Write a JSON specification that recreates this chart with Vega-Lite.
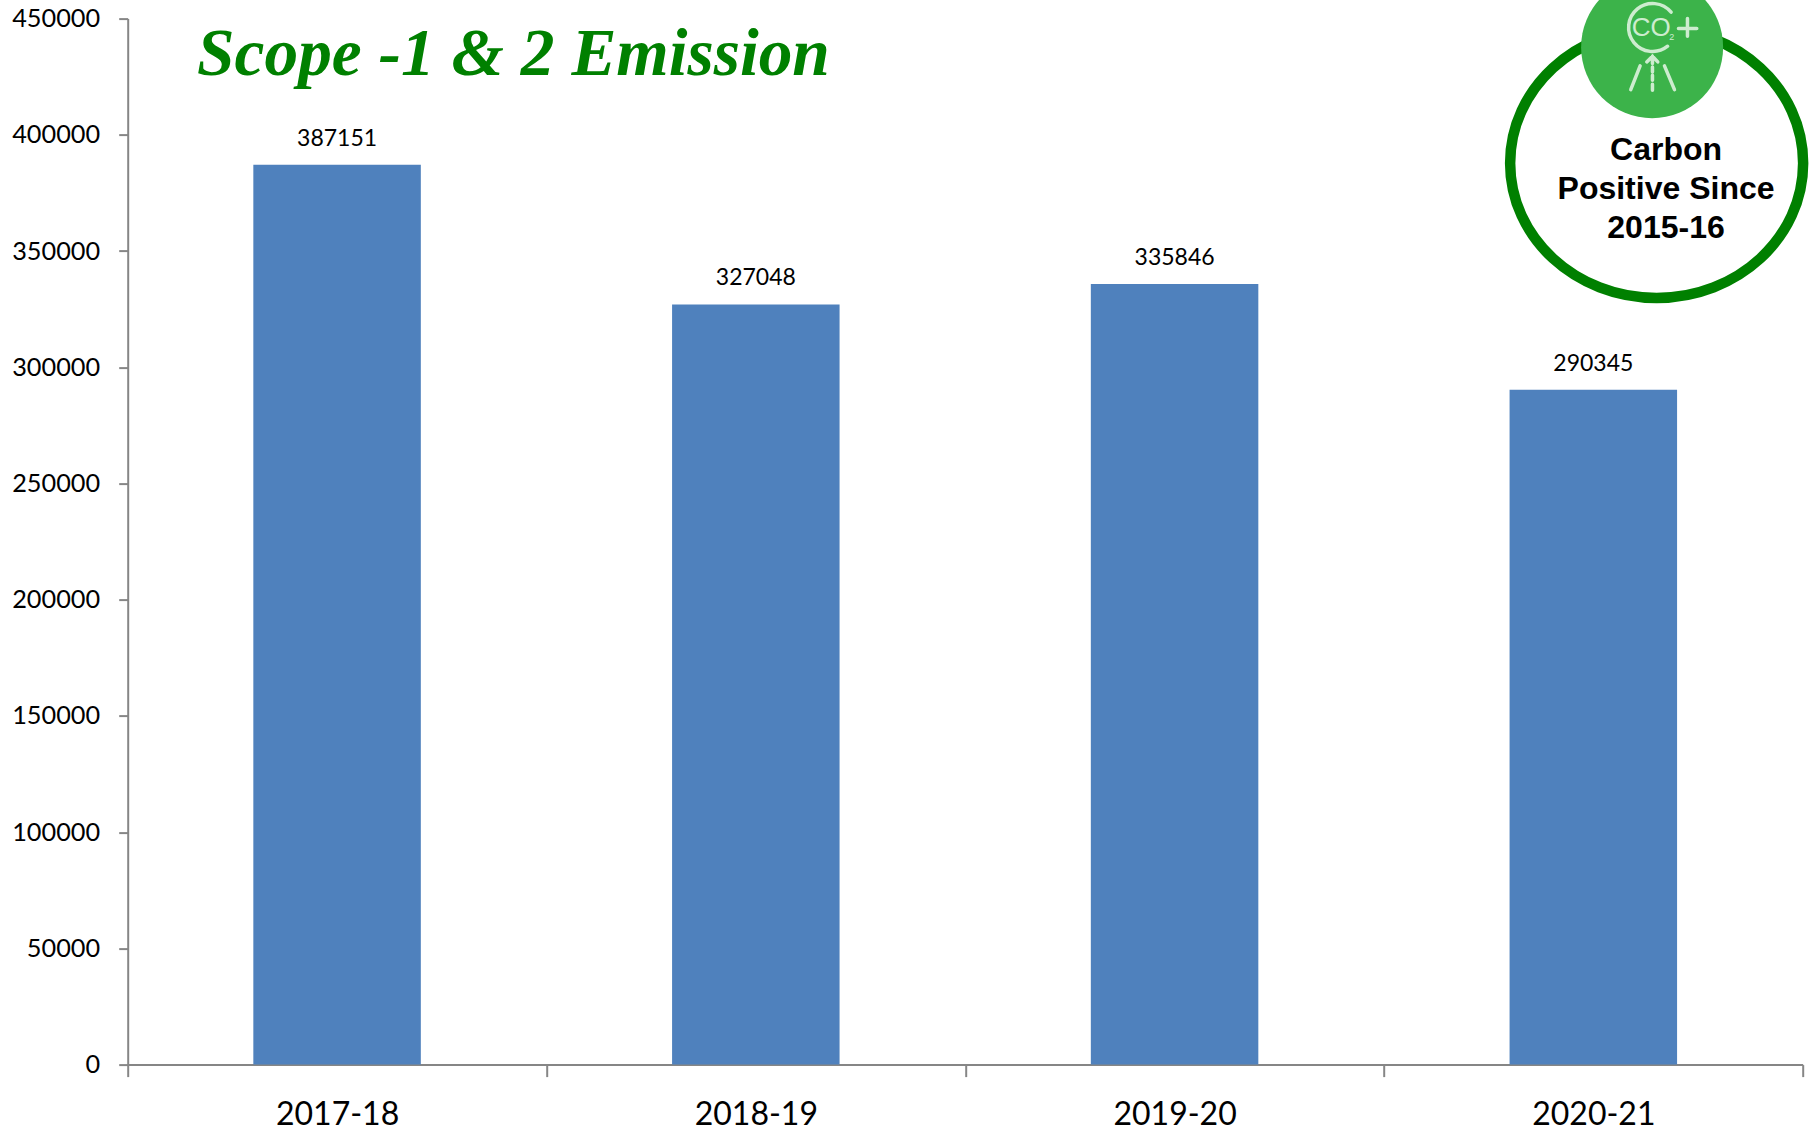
{
"$schema":"https://vega.github.io/schema/vega-lite/v6.json",
"autosize":{"type":"none"},
"padding":{"left":127.7,"top":18.6,"right":17.3,"bottom":67.4},
"width":1675,"height":1046,
"background":"white",
"config":{"view":{"stroke":null}},
"datasets":{
"bars":[{"year":"2017-18","emission":387151},{"year":"2018-19","emission":327048},{"year":"2019-20","emission":335846},{"year":"2020-21","emission":290345}],
"heading":[{"fx":0.0414,"val":425640,"t":"Scope -1 & 2 Emission"}],
"badge":[{"fx":0.9128,"val":387790}],
"disc":[{"fx":0.9101,"val":437700}],
"icon":[{"fx":0.9101,"val":437250}],
"co":[{"fx":0.9096,"val":445850,"t":"CO"}],
"two":[{"fx":0.9218,"val":441980,"t":"2"}],
"caption":[{"fx":0.9184,"val":393630,"t":"Carbon"},{"fx":0.9184,"val":376830,"t":"Positive Since"},{"fx":0.9184,"val":360080,"t":"2015-16"}]
},
"layer":[
{"layer":[
{"data":{"name":"bars"},"mark":{"type":"bar","color":"#4F81BD","width":{"band":0.4}},
"encoding":{
"x":{"field":"year","type":"ordinal","title":null,"scale":{"paddingInner":0,"paddingOuter":0},
"axis":{"labelAngle":0,"labelFont":"Lato","labelFontSize":32,"labelColor":"#000000","domainColor":"#868686","domainWidth":2,"tickColor":"#868686","tickWidth":2,"tickSize":12,"tickBand":"extent","labelPadding":23}},
"y":{"field":"emission","type":"quantitative","title":null,"scale":{"domain":[0,450000],"nice":false},
"axis":{"values":[0,50000,100000,150000,200000,250000,300000,350000,400000,450000],"format":"d","grid":false,"labelFont":"Lato","labelFontSize":25.3,"labelColor":"#000000","domainColor":"#868686","domainWidth":2,"tickColor":"#868686","tickWidth":2,"tickSize":9,"labelPadding":19}}
}},
{"data":{"name":"bars"},"mark":{"type":"text","font":"Lato","fontSize":23,"color":"#000000","dy":-26,"baseline":"middle"},
"encoding":{"x":{"field":"year","type":"ordinal"},"y":{"field":"emission","type":"quantitative"},"text":{"field":"emission","type":"quantitative","format":"d"}}}
]},
{"layer":[
{"data":{"name":"heading"},"mark":{"type":"text","font":"Liberation Serif","fontSize":67.4,"fontStyle":"italic","fontWeight":"bold","color":"#008000","align":"left","baseline":"alphabetic"},
"encoding":{"x":{"field":"fx","type":"quantitative","scale":{"domain":[0,1],"nice":false},"axis":null},"y":{"field":"val","type":"quantitative"},"text":{"field":"t"}}},
{"data":{"name":"badge"},"mark":{"type":"point","shape":"M-1,0 A1,0.92 0 1,1 1,0 A1,0.92 0 1,1 -1,0 Z","filled":false,"fill":"#ffffff","fillOpacity":1,"stroke":"#008000","strokeWidth":10.5,"opacity":1,"size":85849},
"encoding":{"x":{"field":"fx","type":"quantitative"},"y":{"field":"val","type":"quantitative"}}},
{"data":{"name":"disc"},"mark":{"type":"point","shape":"circle","filled":true,"color":"#3CB34A","opacity":1,"size":20164},
"encoding":{"x":{"field":"fx","type":"quantitative"},"y":{"field":"val","type":"quantitative"}}},
{"data":{"name":"icon"},"mark":{"type":"point","shape":"M0.38,-0.72 A0.48,0.48 0 1,0 0.31,-0.04 M0.527,-0.393 L0.893,-0.393 M0.707,-0.593 L0.707,-0.24 M-0.107,0.273 L0.007,0.16 L0.113,0.273 M0.007,0.16 L0.007,0.307 M0.007,0.373 L0.007,0.473 M0.007,0.54 L0.007,0.64 M0.007,0.72 L0.007,0.84 M-0.24,0.353 L-0.427,0.827 M0.247,0.353 L0.447,0.827","filled":false,"fill":null,"stroke":"#CDECCF","strokeWidth":3.5,"strokeCap":"round","opacity":1,"size":10000},
"encoding":{"x":{"field":"fx","type":"quantitative"},"y":{"field":"val","type":"quantitative"}}},
{"data":{"name":"co"},"mark":{"type":"text","font":"Liberation Sans","fontSize":26,"color":"#CDECCF","baseline":"middle"},
"encoding":{"x":{"field":"fx","type":"quantitative"},"y":{"field":"val","type":"quantitative"},"text":{"field":"t"}}},
{"data":{"name":"two"},"mark":{"type":"text","font":"Liberation Sans","fontSize":9,"color":"#CDECCF","baseline":"middle"},
"encoding":{"x":{"field":"fx","type":"quantitative"},"y":{"field":"val","type":"quantitative"},"text":{"field":"t"}}},
{"data":{"name":"caption"},"mark":{"type":"text","font":"Liberation Sans","fontSize":32,"fontWeight":"bold","color":"#000000","baseline":"middle"},
"encoding":{"x":{"field":"fx","type":"quantitative"},"y":{"field":"val","type":"quantitative"},"text":{"field":"t"}}}
]}
],
"resolve":{"scale":{"x":"independent"},"axis":{"x":"independent"}}
}
